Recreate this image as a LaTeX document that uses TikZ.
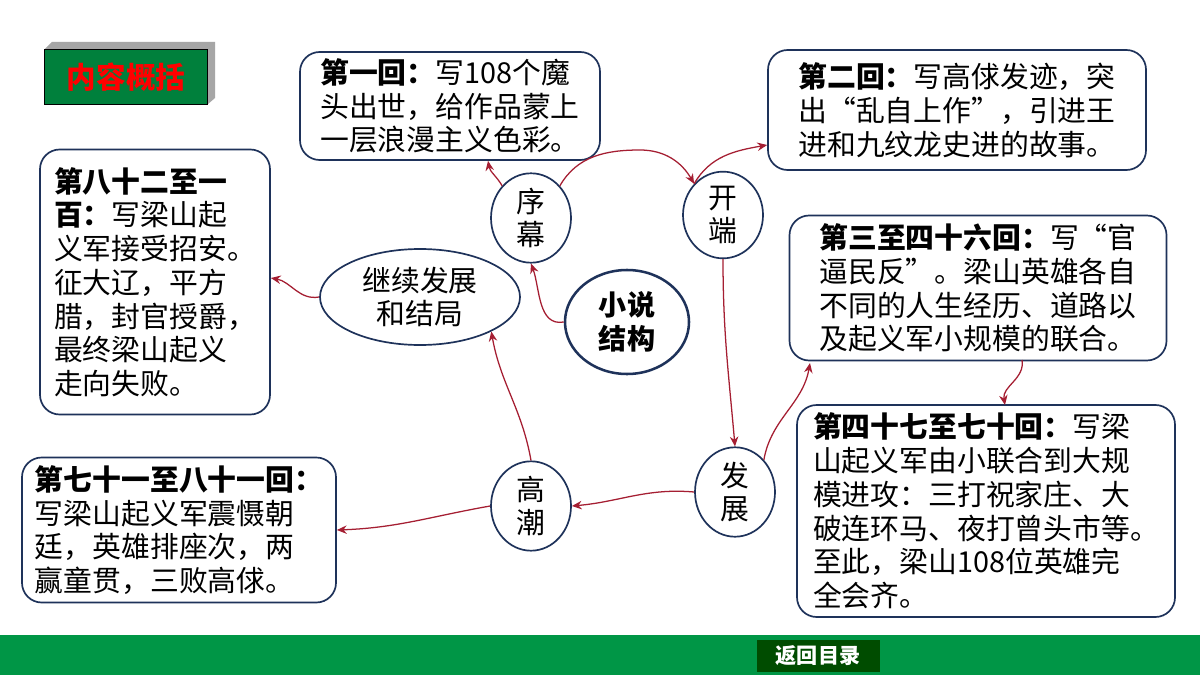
\documentclass[tikz,border=0pt]{standalone}
\usepackage{fontspec}
\setmainfont{Noto Sans CJK SC}
\usetikzlibrary{shapes.geometric,arrows.meta}
\definecolor{darkred}{RGB}{165,30,50}
\definecolor{boxline}{RGB}{30,50,90}
\definecolor{bargreen}{RGB}{0,150,70}
\begin{document}
\begin{tikzpicture}
            [x=0.025cm,y=-0.025cm,
             every node/.style={font=\fontsize{20.5pt}{24pt}\selectfont},
             box/.style={draw=boxline,line width=1.2pt,rounded corners=14pt,fill=white,align=left,inner sep=4pt},
             oval/.style={draw=boxline,line width=1.2pt,ellipse,fill=white,align=center,inner sep=1pt},
             link/.style={draw=darkred,line width=0.9pt,-{Stealth[length=7pt,width=6pt]}}]
            \useasboundingbox (0,0) rectangle (1200,675);
            \fill[white] (0,0) rectangle (1200,675);
            % bottom bar
            \fill[bargreen] (0,635) rectangle (1200,675);
            \node[fill=green!30!black,text=white,font=\fontsize{15pt}{18pt}\selectfont\bfseries,
                  minimum width=123*0.025cm,minimum height=32*0.025cm,inner sep=0pt] (back) at (818,656) {返回目录};
            % title
            \fill[gray!70] (52,42) -- (215,42) -- (215,98) -- (208,104) -- (208,49) -- (45,49) -- cycle;
            \node[draw=black,fill=bargreen!85!black,text=red,font=\fontsize{21pt}{24pt}\selectfont\bfseries,
                  minimum width=163*0.025cm,minimum height=55*0.025cm] (title) at (126,77) {内容概括};
            % ovals
            \node[oval,minimum width=80*0.025cm,minimum height=76*0.025cm] (xumu) at (531,218) {序\\幕};
            \node[oval,minimum width=80*0.025cm,minimum height=76*0.025cm] (kaiduan) at (723,215) {开\\端};
            \node[oval,minimum width=80*0.025cm,minimum height=76*0.025cm] (fazhan) at (735,492) {发\\展};
            \node[oval,minimum width=80*0.025cm,minimum height=76*0.025cm] (gaochao) at (531,506) {高\\潮};
            \node[oval,line width=1.8pt,minimum width=124*0.025cm,minimum height=104*0.025cm,font=\fontsize{20pt}{24pt}\selectfont\bfseries] (main) at (627,322) {小说\\结构};
            \node[oval,minimum width=200*0.025cm,minimum height=96*0.025cm] (jieju) at (420,297) {继续发展\\和结局};
            % boxes
            \node[box,minimum width=300*0.025cm,minimum height=108*0.025cm] (ep1) at (450,106)
              {\textbf{第一回：}写108个魔\\头出世，给作品蒙上\\一层浪漫主义色彩。};
            \node[box,minimum width=378*0.025cm,minimum height=120*0.025cm] (ep2) at (957,110)
              {\textbf{第二回：}写高俅发迹，突\\出“乱自上作”，引进王\\进和九纹龙史进的故事。};
            \node[box,minimum width=377*0.025cm,minimum height=145*0.025cm] (ep3) at (978,288)
              {\textbf{第三至四十六回：}写“官\\逼民反”。梁山英雄各自\\不同的人生经历、道路以\\及起义军小规模的联合。};
            \node[box,minimum width=378*0.025cm,minimum height=212*0.025cm] (ep47) at (986,511)
              {\textbf{第四十七至七十回：}写梁\\山起义军由小联合到大规\\模进攻：三打祝家庄、大\\破连环马、夜打曾头市等。\\至此，梁山108位英雄完\\全会齐。};
            \node[box,minimum width=314*0.025cm,minimum height=145*0.025cm] (ep71) at (179,530)
              {\textbf{第七十一至八十一回：}\\写梁山起义军震慑朝\\廷，英雄排座次，两\\赢童贯，三败高俅。};
            \node[box,minimum width=230*0.025cm,minimum height=265*0.025cm] (ep82) at (155,282)
              {\textbf{第八十二至一}\\\textbf{百：}写梁山起\\义军接受招安。\\征大辽，平方\\腊，封官授爵，\\最终梁山起义\\走向失败。};
            % connectors
            \draw[link] (main.west) to[out=190,in=-70] (xumu.south);
            \draw[link] (xumu.north west) to[out=120,in=-80] (ep1.south west -| 488,160);
            \draw[link] (xumu.north east) to[out=60,in=180] (640,150) to[out=0,in=120] (kaiduan.north west);
            \draw[link] (kaiduan.north west) to[out=60,in=190] (ep2.west |- 0,145);
            \draw[link] (kaiduan.south) to[out=-90,in=95] (fazhan.north);
            \draw[link] (fazhan.north east) to[out=80,in=-100] (810,363);
            \draw[link] (1022,360) to[out=-80,in=100] (1005,405);
            \draw[link] (fazhan.west) to[out=175,in=5] (gaochao.east);
            \draw[link] (gaochao.west) to[out=-170,in=2] (ep71.east);
            \draw[link] (gaochao.north) to[out=100,in=-80] (jieju.south east);
            \draw[link] (jieju.west) to[out=190,in=-10] (ep82.east |- 0,278);
        \end{tikzpicture}
\end{document}
